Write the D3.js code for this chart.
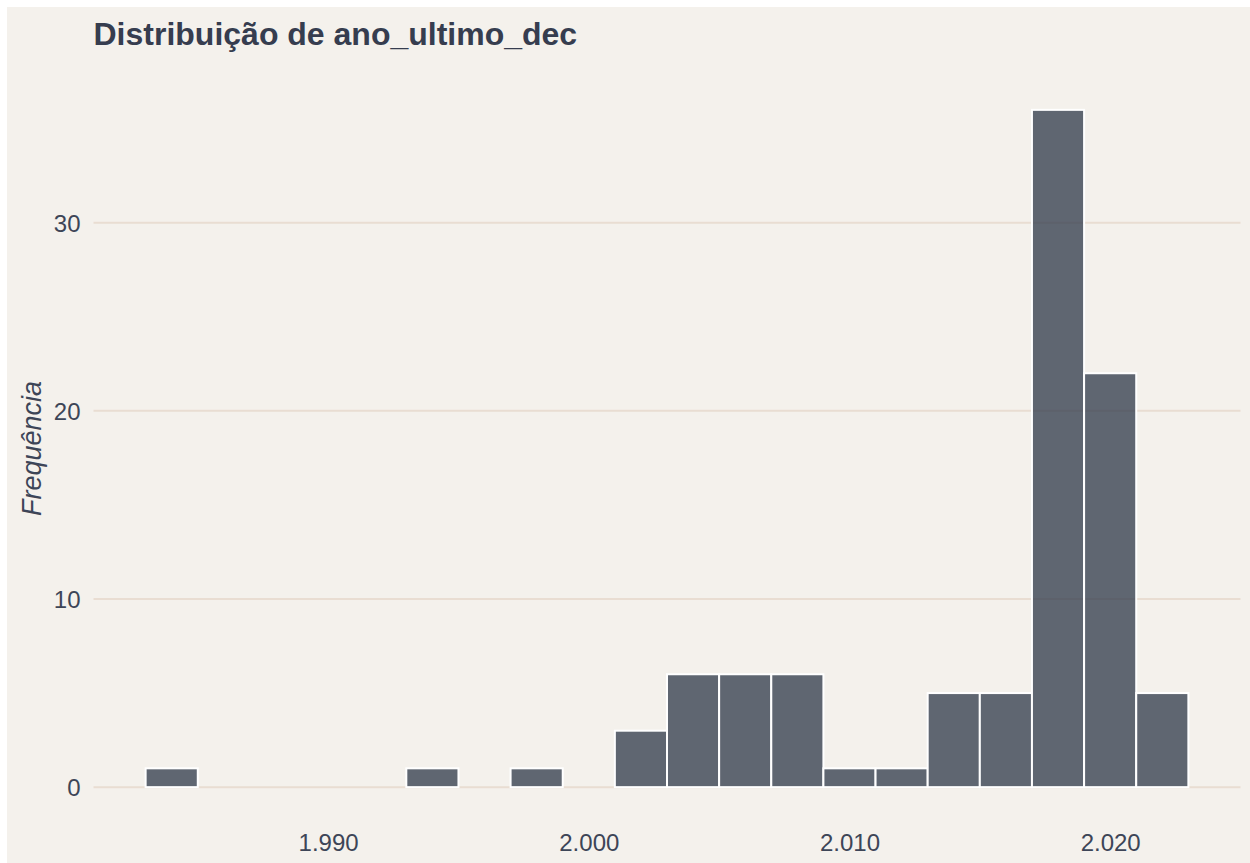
<!DOCTYPE html>
<html>
<head>
<meta charset="utf-8">
<script src="https://cdn.jsdelivr.net/npm/d3@7"></script>
<style>
  html, body { margin: 0; padding: 0; background: #ffffff; }
  svg { display: block; }
  text { font-family: "Liberation Sans", Arial, sans-serif; }
</style>
</head>
<body>
<div id="chart"></div>
<script>
// histogram bins (left edge of each bin, 2 years wide) and counts
var binStarts = [1983, 1985, 1987, 1989, 1991, 1993, 1995, 1997, 1999, 2001,
                 2003, 2005, 2007, 2009, 2011, 2013, 2015, 2017, 2019, 2021];
var binCounts = [1, 0, 0, 0, 0, 1, 0, 1, 0, 3,
                 6, 6, 6, 1, 1, 5, 5, 36, 22, 5];
var binWidth = 2;
var xTicks = [1990, 2000, 2010, 2020];
var yTicks = [0, 10, 20, 30];

var titleText = 'Distribuição de ano_ultimo_dec';
var yLabelText = 'Frequência';

var width = 1250,
    height = 863;

var panel = { left: 93.5, right: 1240.5, top: 76, bottom: 821 };

var svg = d3.select('#chart').append('svg')
  .attr('width', width)
  .attr('height', height);

// plot background
svg.append('rect')
  .attr('x', 7)
  .attr('y', 7)
  .attr('width', width - 7)
  .attr('height', height - 7)
  .attr('fill', '#f4f1ec');

var data = binStarts.map(function (d, i) {
  return { x0: d, x1: d + binWidth, count: binCounts[i] };
});

// ggplot-like 5% expansion on both axes
var xMin = d3.min(data, function (d) { return d.x0; }),
    xMax = d3.max(data, function (d) { return d.x1; }),
    yMax = d3.max(data, function (d) { return d.count; });
var xPad = (xMax - xMin) * 0.05,
    yPad = yMax * 0.05;

var x = d3.scaleLinear()
  .domain([xMin - xPad, xMax + xPad])
  .range([panel.left, panel.right]);

var y = d3.scaleLinear()
  .domain([-yPad, yMax + yPad])
  .range([panel.bottom, panel.top]);

var ptBR = d3.formatLocale({
  decimal: ',',
  thousands: '.',
  grouping: [3],
  currency: ['R$', '']
});
var fmt = ptBR.format(',d');

// horizontal grid lines
svg.append('g').attr('class', 'grid')
  .selectAll('line')
  .data(yTicks)
  .enter().append('line')
  .attr('x1', panel.left)
  .attr('x2', panel.right)
  .attr('y1', function (d) { return y(d); })
  .attr('y2', function (d) { return y(d); })
  .attr('stroke', '#e9ddd2')
  .attr('stroke-width', 2);

// bars
svg.append('g').attr('class', 'bars')
  .selectAll('rect')
  .data(data)
  .enter().append('rect')
  .attr('x', function (d) { return x(d.x0); })
  .attr('width', function (d) { return x(d.x1) - x(d.x0); })
  .attr('y', function (d) { return y(d.count); })
  .attr('height', function (d) { return y(0) - y(d.count); })
  .attr('fill', '#2d3748')
  .attr('fill-opacity', 0.75)
  .attr('stroke', '#ffffff')
  .attr('stroke-width', 2);

// x axis (labels only)
var xAxis = d3.axisBottom(x)
  .tickValues(xTicks)
  .tickFormat(fmt)
  .tickSize(0)
  .tickPadding(0);

var xg = svg.append('g')
  .attr('transform', 'translate(0,' + panel.bottom + ')')
  .call(xAxis);
xg.select('.domain').remove();
xg.selectAll('text')
  .attr('y', 30)
  .attr('dy', 0)
  .attr('fill', '#3d4557')
  .style('font-size', '24px')
  .style('font-family', '"Liberation Sans", Arial, sans-serif');

// y axis (labels only)
var yAxis = d3.axisLeft(y)
  .tickValues(yTicks)
  .tickFormat(fmt)
  .tickSize(0)
  .tickPadding(0);

var yg = svg.append('g')
  .attr('transform', 'translate(' + panel.left + ',0)')
  .call(yAxis);
yg.select('.domain').remove();
yg.selectAll('text')
  .attr('x', -13)
  .attr('dy', '0.35em')
  .attr('fill', '#3d4557')
  .style('font-size', '24px')
  .style('font-family', '"Liberation Sans", Arial, sans-serif');

// y axis title
svg.append('text')
  .attr('transform', 'translate(41,' + ((panel.top + panel.bottom) / 2) + ') rotate(-90)')
  .attr('text-anchor', 'middle')
  .attr('fill', '#3d4557')
  .style('font-size', '27px')
  .style('font-style', 'italic')
  .text(yLabelText);

// title
svg.append('text')
  .attr('x', panel.left)
  .attr('y', 45)
  .attr('fill', '#363d4f')
  .style('font-size', '32px')
  .style('font-weight', 'bold')
  .text(titleText);
</script>
</body>
</html>
